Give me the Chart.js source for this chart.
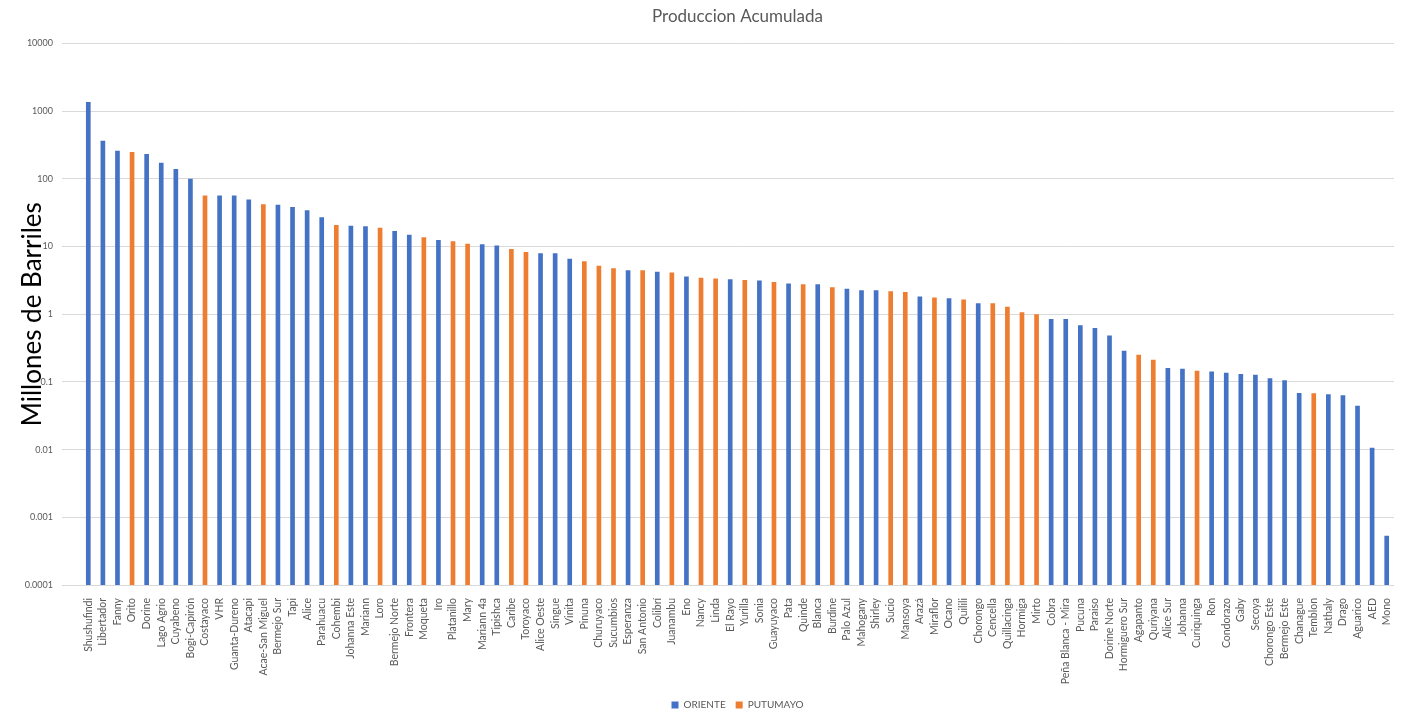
<!DOCTYPE html>
<html>
<head>
<meta charset="utf-8">
<script src="https://cdn.jsdelivr.net/npm/chart.js@4/dist/chart.umd.min.js"></script>
<style>
  html, body { margin: 0; padding: 0; background: #ffffff; }
  #wrap { width: 1409px; height: 715px; }
</style>
</head>
<body>
<div id="wrap"><canvas id="chart" width="1409" height="715"></canvas></div>
<script>
// Oil fields, ordered by cumulative production (millions of barrels)
const fields = [
  'Shushufindi', 'Libertador', 'Fanny', 'Orito', 'Dorine', 'Lago Agrio', 'Cuyabeno', 'Bogi-Capirón',
  'Costayaco', 'VHR', 'Guanta-Dureno', 'Atacapi', 'Acae-San Miguel', 'Bermejo Sur', 'Tapi', 'Alice',
  'Parahuacu', 'Cohembi', 'Johanna Este', 'Mariann', 'Loro', 'Bermejo Norte', 'Frontera', 'Moqueta',
  'Iro', 'Platanillo', 'Mary', 'Mariann 4a', 'Tipishca', 'Caribe', 'Toroyaco', 'Alice Oeste',
  'Singue', 'Vinita', 'Pinuna', 'Churuyaco', 'Sucumbios', 'Esperanza', 'San Antonio', 'Colibrí',
  'Juanambu', 'Eno', 'Nancy', 'Linda', 'El Rayo', 'Yurilla', 'Sonia', 'Guayuyaco',
  'Pata', 'Quinde', 'Blanca', 'Burdine', 'Palo Azul', 'Mahogany', 'Shirley', 'Sucio',
  'Mansoya', 'Arazá', 'Miraflor', 'Ocano', 'Quilili', 'Chorongo', 'Cencella', 'Quillacinga',
  'Hormiga', 'Mirto', 'Cobra', 'Peña Blanca - Mira', 'Pucuna', 'Paraiso', 'Dorine Norte', 'Hormiguero Sur',
  'Agapanto', 'Quriyana', 'Alice Sur', 'Johanna', 'Curiquinga', 'Ron', 'Condorazo', 'Gaby',
  'Secoya', 'Chorongo Este', 'Bermejo Este', 'Chanague', 'Temblon', 'Nathaly', 'Drago', 'Aguarico',
  'AED', 'Mono'
];

const production = [
  1350, 360, 256, 245, 229, 170, 138, 99,
  56, 56, 56, 49, 41.5, 41, 38, 34,
  26.7, 20.5, 20.1, 19.7, 18.7, 16.8, 14.8, 13.5,
  12.3, 11.8, 10.9, 10.7, 10.2, 9.1, 8.2, 7.85,
  7.85, 6.5, 6.0, 5.15, 4.7, 4.4, 4.4, 4.2,
  4.07, 3.55, 3.43, 3.32, 3.25, 3.17, 3.1, 2.96,
  2.8, 2.74, 2.74, 2.47, 2.34, 2.24, 2.24, 2.16,
  2.11, 1.80, 1.74, 1.70, 1.63, 1.44, 1.44, 1.27,
  1.06, 0.99, 0.84, 0.84, 0.68, 0.62, 0.48, 0.285,
  0.248, 0.21, 0.158, 0.155, 0.144, 0.141, 0.135, 0.129,
  0.126, 0.112, 0.105, 0.068, 0.067, 0.065, 0.063, 0.044,
  0.0105, 0.00053
];

// Basin of each field: 0 = ORIENTE, 1 = PUTUMAYO
const basin = [
  0, 0, 0, 1, 0, 0, 0, 0,
  1, 0, 0, 0, 1, 0, 0, 0,
  0, 1, 0, 0, 1, 0, 0, 1,
  0, 1, 1, 0, 0, 1, 1, 0,
  0, 0, 1, 1, 1, 0, 1, 0,
  1, 0, 1, 1, 0, 1, 0, 1,
  0, 1, 0, 1, 0, 0, 0, 1,
  1, 0, 1, 0, 1, 0, 1, 1,
  1, 1, 0, 0, 0, 0, 0, 0,
  1, 1, 0, 0, 1, 0, 0, 0,
  0, 0, 0, 0, 1, 0, 0, 0,
  0, 0
];

const seriesNames = ['ORIENTE', 'PUTUMAYO'];
const seriesColors = ['#4472C4', '#ED7D31'];
const yTicks = [0.0001, 0.001, 0.01, 0.1, 1, 10, 100, 1000, 10000];

const FONT = 'Lato, "Open Sans", sans-serif';
const GREY = '#595959';

const datasets = seriesNames.map((name, k) => ({
  label: name,
  data: production.map((v, i) => (basin[i] === k ? v : null)),
  backgroundColor: seriesColors[k],
  borderWidth: 0,
  barThickness: 4,
  grouped: false
}));

new Chart(document.getElementById('chart'), {
  type: 'bar',
  data: { labels: fields, datasets },
  options: {
    responsive: false,
    animation: false,
    devicePixelRatio: 1,
    layout: { padding: { left: 0, right: 15, top: 0, bottom: -5 } },
    plugins: {
      title: {
        display: true,
        text: 'Produccion Acumulada',
        color: GREY,
        fullSize: false,
        font: { family: FONT, size: 17, weight: 'normal' },
        padding: { top: 6, bottom: 17 }
      },
      legend: {
        position: 'bottom',
        fullSize: false,
        labels: {
          boxWidth: 7,
          boxHeight: 7,
          color: GREY,
          padding: 10,
          font: { family: FONT, size: 10 }
        }
      },
      tooltip: { enabled: false }
    },
    scales: {
      x: {
        type: 'category',
        grid: { display: false },
        border: { display: false },
        ticks: {
          autoSkip: false,
          maxRotation: 90,
          minRotation: 90,
          padding: 5,
          color: GREY,
          font: { family: FONT, size: 10.5 }
        },
        afterFit: (scale) => { scale.height = 105; }
      },
      y: {
        type: 'logarithmic',
        min: yTicks[0],
        max: yTicks[yTicks.length - 1],
        afterBuildTicks: (scale) => {
          scale.ticks = yTicks.map((v) => ({ value: v }));
        },
        afterFit: (scale) => { scale.width = 81; },
        grid: { color: '#D9D9D9', lineWidth: 1, tickLength: 19 },
        border: { display: false },
        ticks: {
          padding: 9,
          color: GREY,
          font: { family: FONT, size: 9 },
          callback: (v) => String(v)
        },
        title: {
          display: true,
          text: 'Millones de Barriles',
          color: '#000000',
          font: { family: FONT, size: 26 },
          padding: { top: 17, bottom: 0 }
        }
      }
    }
  }
});
</script>
</body>
</html>
